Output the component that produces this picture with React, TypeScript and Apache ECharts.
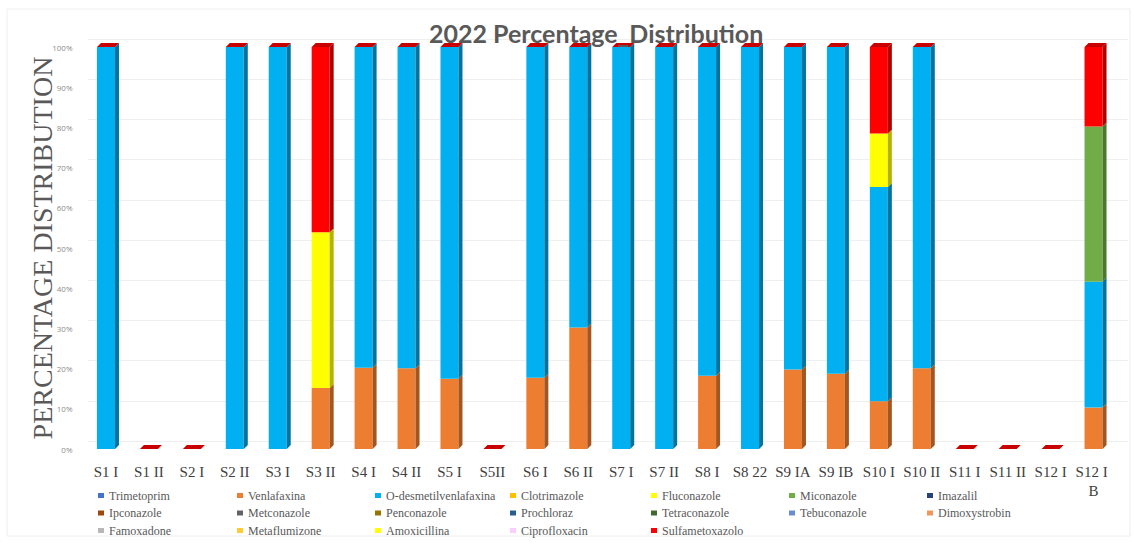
import React, { useEffect, useRef } from "react";
import * as echarts from "echarts";

const categories = [
  "S1 I", "S1 II", "S2 I", "S2 II", "S3 I", "S3 II", "S4 I", "S4 II", "S5 I", "S5II",
  "S6 I", "S6 II", "S7 I", "S7 II", "S8 I", "S8 22", "S9 IA", "S9 IB", "S10 I", "S10 II",
  "S11 I", "S11 II", "S12 I", "S12 I B",
];

const substances = [
  "Trimetoprim", "Venlafaxina", "O-desmetilvenlafaxina", "Clotrimazole", "Fluconazole", "Miconazole", "Imazalil",
  "Ipconazole", "Metconazole", "Penconazole", "Prochloraz", "Tetraconazole", "Tebuconazole", "Dimoxystrobin",
  "Famoxadone", "Metaflumizone", "Amoxicillina", "Ciprofloxacin", "Sulfametoxazolo",
];

const substanceColors = [
  "#4472C4", "#ED7D31", "#00B0F0", "#FFC000", "#FFFF00", "#70AD47", "#264478",
  "#9E480E", "#636363", "#997300", "#255E91", "#43682B", "#698ED0", "#F1975A",
  "#B7B7B7", "#FFCD33", "#FFFF00", "#FFCCFF", "#FF0000",
];

// percentage values per sample (only non-empty substances)
const venlafaxina = [0, 0, 0, 0, 0, 15.2, 20.2, 20.1, 17.5, 0, 17.7, 30.2, 0, 0, 18.2, 0, 19.8, 18.7, 11.9, 20.1, 0, 0, 0, 10.3];
const oDesmetilvenlafaxina = [100, 0, 0, 100, 100, 0, 79.8, 79.9, 82.5, 0, 82.3, 69.8, 100, 100, 81.8, 100, 80.2, 81.3, 53.3, 79.9, 0, 0, 0, 31.3];
const fluconazole = [0, 0, 0, 0, 0, 38.7, 0, 0, 0, 0, 0, 0, 0, 0, 0, 0, 0, 0, 13.3, 0, 0, 0, 0, 0];
const miconazole = [0, 0, 0, 0, 0, 0, 0, 0, 0, 0, 0, 0, 0, 0, 0, 0, 0, 0, 0, 0, 0, 0, 0, 38.6];
const sulfametoxazolo = [0, 0, 0, 0, 0, 46.1, 0, 0, 0, 0, 0, 0, 0, 0, 0, 0, 0, 0, 21.5, 0, 0, 0, 0, 19.8];

const seriesValues: Record<string, number[]> = {
  Venlafaxina: venlafaxina,
  "O-desmetilvenlafaxina": oDesmetilvenlafaxina,
  Fluconazole: fluconazole,
  Miconazole: miconazole,
  Sulfametoxazolo: sulfametoxazolo,
};

const sideColors: Record<string, string> = {
  Venlafaxina: "#A3561F",
  "O-desmetilvenlafaxina": "#00739E",
  Fluconazole: "#B3B300",
  Miconazole: "#4C7731",
  Sulfametoxazolo: "#B00000",
};

const stackOrder = substances.filter((s) => seriesValues[s]);
const topFaceColor = "#C80000";

const legendColumnsX = [93, 232, 370, 505, 646, 784, 922];

const SERIF = "'Liberation Serif', 'Times New Roman', serif";

export default function App() {
  const ref = useRef<HTMLDivElement>(null);

  useEffect(() => {
    if (!ref.current) return;
    const chart = echarts.init(ref.current, null, { renderer: "svg" });

    const BAR_W = 18;
    const DX = 4;
    const DY = 4;

    const barSeries = substances.map((name, idx) => ({
      name,
      type: "bar",
      stack: "total",
      barWidth: BAR_W,
      data: seriesValues[name] ? seriesValues[name] : [],
      itemStyle: { color: substanceColors[idx] },
      emphasis: { disabled: true },
    }));

    const customSeries = {
      type: "custom",
      name: "3d",
      data: categories.map((_, i) => [i, stackOrder.reduce((a, s) => a + seriesValues[s][i], 0)]),
      encode: { x: 0, y: 1 },
      z: 3,
      silent: true,
      renderItem: (params: any, api: any) => {
        const i = api.value(0);
        const base = api.coord([i, 0]);
        const xc = base[0];
        const xl = xc - BAR_W / 2;
        const xr = xc + BAR_W / 2;
        const children: any[] = [];
        let cum = 0;
        for (const s of stackOrder) {
          const v = seriesValues[s][i];
          if (v > 0) {
            const yB = api.coord([i, cum])[1];
            const yT = api.coord([i, cum + v])[1];
            children.push({
              type: "polygon",
              shape: { points: [[xr, yB], [xr + DX, yB - DY], [xr + DX, yT - DY], [xr, yT]] },
              style: { fill: sideColors[s] },
            });
            cum += v;
          }
        }
        const yTop = api.coord([i, cum])[1];
        children.push({
          type: "polygon",
          shape: { points: [[xl, yTop], [xl + DX, yTop - DY], [xr + DX, yTop - DY], [xr, yTop]] },
          style: { fill: topFaceColor },
        });
        return { type: "group", children };
      },
    };

    const legends = legendColumnsX.map((left, col) => ({
      orient: "vertical",
      left,
      top: 484.5,
      itemWidth: 6,
      itemHeight: 5,
      itemGap: 5.5,
      icon: "rect",
      selectedMode: false,
      data: substances.filter((_, k) => k % 7 === col),
      textStyle: { fontFamily: SERIF, fontSize: 12, lineHeight: 12, color: "#595959" },
    }));

    chart.setOption({
      animation: false,
      backgroundColor: "#ffffff",
      textStyle: { fontFamily: SERIF },
      title: {
        text: "2022 Percentage_Distribution",
        left: 424,
        top: 15,
        textStyle: { fontFamily: "Lato", fontWeight: "bold", fontSize: 25, color: "#595959" },
      },
      graphic: [
        {
          type: "rect",
          shape: { x: 7, y: 9, width: 1123, height: 527 },
          style: { fill: "none", stroke: "#eeeeee", lineWidth: 1 },
          silent: true,
        },
      ],
      legend: legends,
      grid: [
        { left: 84.5, right: 19, top: 47, bottom: 97 },
        { left: 88, right: 6, top: 39, bottom: 105 },
      ],
      xAxis: [
        {
          type: "category",
          gridIndex: 0,
          data: categories,
          axisLine: { show: false },
          axisTick: { show: false },
          axisLabel: {
            interval: 0,
            margin: 13,
            fontFamily: SERIF,
            fontSize: 15,
            lineHeight: 19.5,
            color: "#404040",
            width: 42,
            overflow: "break",
          },
        },
        { type: "value", gridIndex: 1, show: false, min: 0, max: 1 },
      ],
      yAxis: [
        {
          type: "value",
          gridIndex: 0,
          min: 0,
          max: 100,
          interval: 10,
          splitLine: { show: false },
          axisLine: { show: false },
          axisTick: { show: false },
          axisLabel: {
            formatter: "{value}%",
            fontFamily: "Open Sans",
            fontSize: 8,
            color: "#8c8c8c",
            margin: 12,
            padding: [7, 0, 0, 0],
          },
          name: "PERCENTAGE DISTRIBUTION",
          nameLocation: "middle",
          nameRotate: 90,
          nameGap: 42,
          nameMoveOverlap: false,
          nameTextStyle: { fontFamily: SERIF, fontSize: 28, color: "#595959", verticalAlign: "middle" },
        },
        {
          type: "value",
          gridIndex: 1,
          min: 0,
          max: 100,
          interval: 10,
          axisLine: { show: false },
          axisTick: { show: false },
          axisLabel: { show: false },
          splitLine: { show: true, lineStyle: { color: "#efefef", width: 1 } },
        },
      ],
      series: [...barSeries, customSeries],
    });

    return () => chart.dispose();
  }, []);

  return (
    <div
      ref={ref}
      style={{ position: "fixed", left: 0, top: 0, width: 1134, height: 546, background: "#fff" }}
    />
  );
}
